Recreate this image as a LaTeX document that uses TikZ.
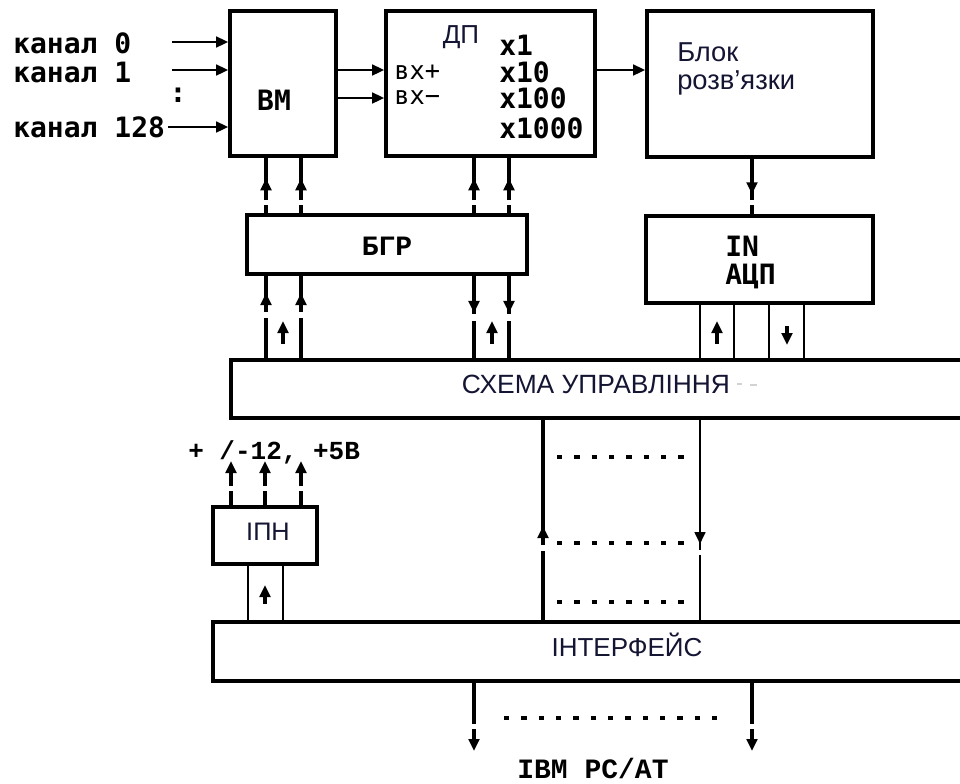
\documentclass[tikz,border=0pt]{standalone}
\usepackage{fontspec}
\setmainfont{Liberation Sans}
\newfontfamily\dmono{DejaVu Sans Mono}
\newfontfamily\lmono{Liberation Mono}
\usetikzlibrary{arrows.meta,decorations.markings,fit}
\definecolor{ink}{HTML}{141433}
\tikzset{
  blk/.style={draw, line width=2.7pt, fill=white, inner sep=0pt},
  conn/.style={line width=2.4pt},
  thinconn/.style={line width=1.8pt},
  tip/.style={-{Triangle[length=9pt,width=8pt]}},
  midarr/.style={postaction={decorate,decoration={markings,
      mark=at position #1 with {\arrow{Triangle[length=9pt,width=8pt]}}}}},
  dotl/.style={line width=3pt, dash pattern=on 4pt off 9pt},
  mono/.style={font=\dmono\bfseries\fontsize{21}{21}\selectfont, inner sep=0pt},
  smono/.style={font=\lmono\bfseries\fontsize{21}{21}\selectfont, inner sep=0pt},
  sans/.style={font=\fontsize{19.8}{21}\selectfont, text=ink, inner sep=0pt},
}
\begin{document}
\begin{tikzpicture}[x=0.75pt, y=-0.75pt]
\useasboundingbox (0,0) rectangle (960,783);
\clip (0,0) rectangle (960,783);

% boxes
\node[blk, fit={(230,11) (336,156)}] (bm) {};
\node[blk, fit={(386,11) (595,156)}] (dp) {};
\node[blk, fit={(647,11) (873,157)}] (blok) {};
\node[blk, fit={(247,215) (527,274)}] (bgr) {};
\node[blk, fit={(646,216) (873,303)}] (adc) {};
\node[blk, fit={(231,360) (985,418)}] (sch) {};
\node[blk, fit={(213,507) (317,564)}] (ipn) {};
\node[blk, fit={(213,622) (985,681)}] (intf) {};

% texts
\node[mono, anchor=west] (k0) at (13,43) {канал 0};
\node[mono, anchor=west] (k1) at (13,72) {канал 1};
\node[mono] (kd) at (178,95) {:};
\node[mono, anchor=west] (k128) at (13,127) {канал 128};
\node[mono] (tbm) at (274,100) {ВМ};
\node[sans, font=\fontsize{19.5}{20}\selectfont] (tdp) at (461,37) {ДП};
\node[mono, anchor=west] (g1) at (499,45) {x1};
\node[mono, anchor=west] (g10) at (499,72) {x10};
\node[mono, anchor=west] (g100) at (499,98) {x100};
\node[mono, anchor=west] (g1000) at (499,128) {x1000};
\node[mono, font=\dmono\fontsize{19}{19}\selectfont, anchor=west] (vp) at (394,72) {вх+};
\node[mono, font=\dmono\fontsize{19}{19}\selectfont, anchor=west] (vm) at (394,98) {вх−};
\node[sans, font=\fontsize{20.5}{22}\selectfont, anchor=west] (tb1) at (677,52) {Блок};
\node[sans, font=\fontsize{20.5}{22}\selectfont, anchor=west] (tb2) at (677,83) {розв'язки};
\node[smono] (tbgr) at (387,246) {БГР};
\node[mono, anchor=west] (tin) at (725,246) {IN};
\node[mono, anchor=west] (tadc) at (725,276) {АЦП};
\node[sans] (tsch) at (596,384) {СХЕМА УПРАВЛІННЯ};
\node[sans, font=\fontsize{19}{20}\selectfont] (tipn) at (268,532) {ІПН};
\node[smono, font=\lmono\bfseries\fontsize{19.5}{19.5}\selectfont, anchor=west] (tpw) at (188,452) {+ /-12, +5В};
\node[sans, font=\fontsize{19.5}{21}\selectfont] (tintf) at (627,645) {ІНТЕРФЕЙС};
\node[smono] (tibm) at (593,768) {IBM PC/AT};

% faint marks after СХЕМА УПРАВЛІННЯ
\draw[gray!35, line width=0.8pt] (737,384) -- (742,384) (750,385) -- (757,385);

% input channel arrows
\coordinate (a0) at (172,42);
\coordinate (a1) at (172,70);
\coordinate (a128) at (168,127);
\draw[thinconn, tip] (a0) -- (bm.west |- a0);
\draw[thinconn, tip] (a1) -- (bm.west |- a1);
\draw[thinconn, tip] (a128) -- (bm.west |- a128);

% BM -> DP, DP -> Blok
\draw[thinconn, tip] (bm.east |- 0,70) -- (dp.west |- 0,70);
\draw[thinconn, tip] (bm.east |- 0,98) -- (dp.west |- 0,98);
\draw[thinconn, tip] (dp.east |- 0,70) -- (blok.west |- 0,70);

% BGR -> BM / DP (up)
\foreach \xx/\tgt in {266/bm, 301/bm, 474/dp, 509/dp}{
  \draw[conn, dash pattern=on 6pt off 3.75pt on 100pt, midarr=0.63]
    (bgr.north -| \xx,0) -- (\tgt.south -| \xx,0);
}
% SCH -> BGR (up) left pair
\foreach \xx in {266, 301}{
  \draw[conn, dash pattern=on 30pt off 5pt on 100pt, midarr=0.79]
    (sch.north -| \xx,0) -- (bgr.south -| \xx,0);
}
% BGR -> SCH (down) right pair
\foreach \xx in {474, 509}{
  \draw[conn, dash pattern=on 29pt off 5pt on 100pt, midarr=0.45]
    (bgr.south -| \xx,0) -- (sch.north -| \xx,0);
}
% bus arrows between line pairs
\draw[conn, tip] (283,344) -- (283,321);
\draw[conn, tip] (492,344) -- (492,321);

% Blok -> ADC
\draw[conn, dash pattern=on 31pt off 4pt on 100pt, midarr=0.64]
  (blok.south -| 752,0) -- (adc.north -| 752,0);

% ADC <-> SCH bus lines
\foreach \xx in {700, 734, 769, 804}{
  \draw[thinconn] (adc.south -| \xx,0) -- (sch.north -| \xx,0);
}
\draw[conn, tip] (717,344) -- (717,321);
\draw[conn, tip] (787,326) -- (787,345);

% SCH <-> INTF
\draw[line width=3.4pt, dash pattern=on 51.75pt off 4.5pt on 200pt, midarr=0.47]
  (intf.north -| 543,0) -- (sch.south -| 543,0);
\draw[thinconn, dash pattern=on 97.5pt off 3.75pt on 200pt, midarr=0.62]
  (sch.south -| 700,0) -- (intf.north -| 700,0);
\draw[dotl] (557,457) -- (685,457);
\draw[dotl] (557,543) -- (685,543);
\draw[dotl] (557,602) -- (685,602);

% IPN outputs
\foreach \xx [count=\i] in {231, 265, 301}{
  \coordinate (p\i) at (\xx,461);
  \draw[conn, tip, dash pattern=on 10.5pt off 3.75pt on 100pt] (ipn.north -| p\i) -- (p\i);
}
% INTF -> IPN
\draw[thinconn] (intf.north -| 248,0) -- (ipn.south -| 248,0);
\draw[thinconn] (intf.north -| 283,0) -- (ipn.south -| 283,0);
\draw[conn, tip] (265,604) -- (265,585);

% INTF -> IBM PC/AT
\coordinate (o1) at (474,751);
\coordinate (o2) at (752,751);
\draw[conn, tip, dash pattern=on 31pt off 4pt on 100pt] (intf.south -| o1) -- (o1);
\draw[conn, tip, dash pattern=on 31pt off 4pt on 100pt] (intf.south -| o2) -- (o2);
\draw[dotl] (504,718) -- (720,718);
\end{tikzpicture}
\end{document}
